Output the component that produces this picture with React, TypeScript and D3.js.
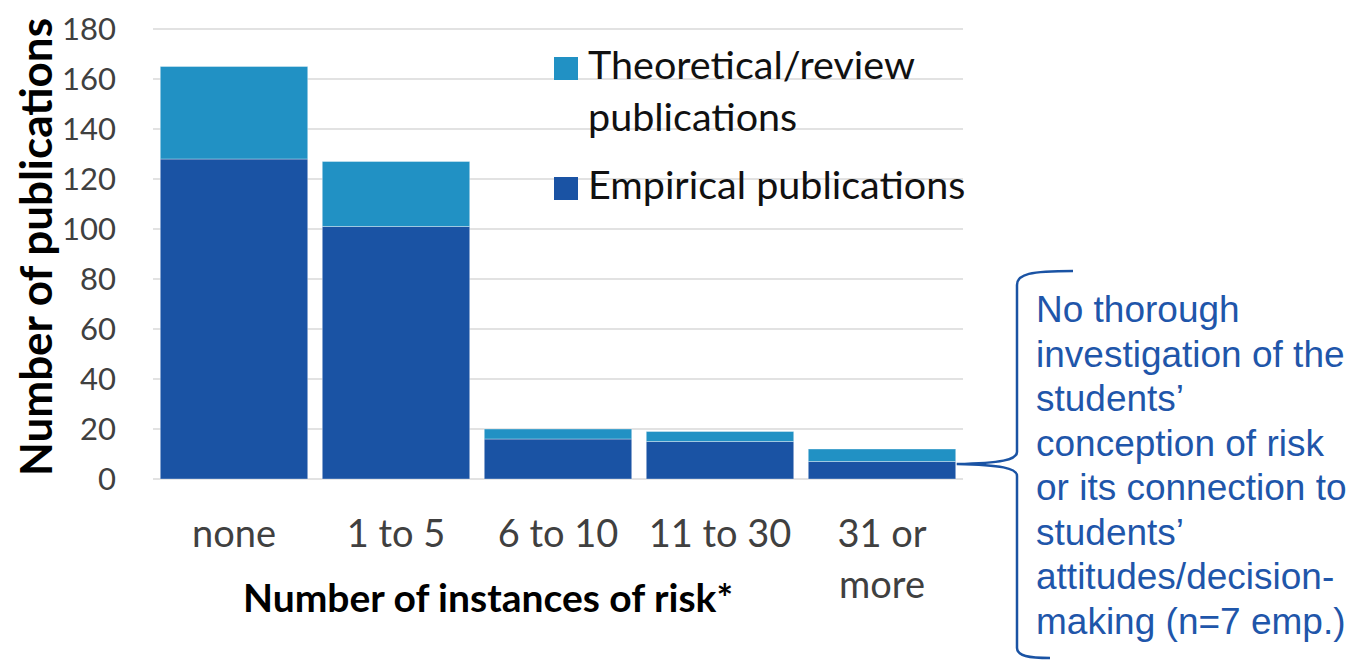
import React from "react";
import * as d3 from "d3";

// categories and series
const categories = ["none", "1 to 5", "6 to 10", "11 to 30", "31 or more"];
const categoryLines = [["none"], ["1 to 5"], ["6 to 10"], ["11 to 30"], ["31 or", "more"]];
const empirical = [128, 101, 16, 15, 7];
const theoretical = [37, 26, 4, 4, 5];
const yTicks = [0, 20, 40, 60, 80, 100, 120, 140, 160, 180];
const seriesNames = ["Empirical publications", "Theoretical/review publications"];
const noteLines = [
  "No thorough",
  "investigation of the",
  "students’",
  "conception of risk",
  "or its connection to",
  "students’",
  "attitudes/decision-",
  "making (n=7 emp.)",
];

const W = 1353;
const H = 662;
const left = 153;
const right = 963;
const top = 29;
const bottom = 479;

const DARK = "#1a53a4";
const LIGHT = "#2191c4";
const FONT = "Lato, 'Open Sans', sans-serif";

const App = () => {
  const x = d3
    .scaleBand<string>()
    .domain(categories)
    .range([left, right])
    .paddingInner(0.09)
    .paddingOuter(0.045);
  const y = d3.scaleLinear().domain([0, 180]).range([bottom, top]);

  // stack the two series
  const rows = categories.map((c, i) => ({ cat: c, emp: empirical[i], theo: theoretical[i] }));
  const stacked = d3.stack<any>().keys(["emp", "theo"])(rows);
  const colors = [DARK, LIGHT];

  // brace pointing at the last bar's empirical segment
  const lastCat = categories[categories.length - 1];
  const tipX = (x(lastCat) as number) + x.bandwidth() + 1;
  const tipY = y(6);
  const bx = 1017;
  const braceTop = 271;
  const braceBottom = 658;
  const brace =
    `M1073,${braceTop} C1030,${braceTop} ${bx},${braceTop + 3} ${bx},${braceTop + 14} ` +
    `L${bx},${tipY - 12} C${bx},${tipY - 4} ${bx - 16},${tipY - 1} ${tipX},${tipY} ` +
    `C${bx - 16},${tipY + 1} ${bx},${tipY + 4} ${bx},${tipY + 12} ` +
    `L${bx},${braceBottom - 10} C${bx},${braceBottom - 2} ${bx + 12},${braceBottom} 1050,${braceBottom}`;

  return (
    <svg width={W} height={H} style={{ position: "absolute", left: 0, top: 0 }}>
      <rect width={W} height={H} fill="#fff" />

      {/* gridlines */}
      {yTicks.map((t) => (
        <line key={t} x1={left} x2={right} y1={y(t)} y2={y(t)} stroke="#d9d9d9" strokeWidth={1.5} />
      ))}

      {/* y tick labels */}
      {yTicks.map((t) => (
        <text
          key={"l" + t}
          x={116}
          y={y(t)}
          dy="0.36em"
          textAnchor="end"
          fontFamily={FONT}
          fontSize={31}
          fill="#404040"
        >
          {t}
        </text>
      ))}

      {/* bars */}
      {stacked.map((s, si) =>
        s.map((d, i) => (
          <rect
            key={si + "-" + i}
            x={x(categories[i])}
            width={x.bandwidth()}
            y={y(d[1])}
            height={y(d[0]) - y(d[1])}
            fill={colors[si]}
            stroke="#ffffff"
            strokeOpacity={0.35}
            strokeWidth={1}
          />
        ))
      )}

      {/* x tick labels */}
      {categoryLines.map((lines, i) => (
        <text
          key={"x" + i}
          x={(x(categories[i]) as number) + x.bandwidth() / 2}
          y={547}
          textAnchor="middle"
          fontFamily={FONT}
          fontSize={38}
          fill="#404040"
        >
          {lines.map((ln, j) => (
            <tspan key={j} x={(x(categories[i]) as number) + x.bandwidth() / 2} dy={j === 0 ? 0 : 51}>
              {ln}
            </tspan>
          ))}
        </text>
      ))}

      {/* axis titles */}
      <text
        x={488}
        y={612}
        textAnchor="middle"
        fontFamily={FONT}
        fontWeight="bold"
        fontSize={39}
        fill="#000"
      >
        Number of instances of risk*
      </text>
      <text
        transform={`translate(52,247) rotate(-90)`}
        textAnchor="middle"
        fontFamily={FONT}
        fontWeight="bold"
        fontSize={44}
        fill="#000"
      >
        Number of publications
      </text>

      {/* legend */}
      <rect x={554} y={57} width={24} height={23} fill={LIGHT} />
      <text x={588} y={79} fontFamily={FONT} fontSize={39.5} fill="#111">
        <tspan x={588}>Theoretical/review</tspan>
        <tspan x={588} dy={52}>
          publications
        </tspan>
      </text>
      <rect x={554} y={177} width={24} height={23} fill={DARK} />
      <text x={588} y={199} fontFamily={FONT} fontSize={39.5} fill="#111">
        {seriesNames[0]}
      </text>

      {/* annotation brace and note */}
      <path d={brace} fill="none" stroke={DARK} strokeWidth={2.5} />
      <text
        x={1036}
        y={322}
        fontFamily="'Liberation Sans', Arial, sans-serif"
        fontSize={37}
        fill="#1f56aa"
      >
        {noteLines.map((ln, i) => (
          <tspan key={i} x={1036} dy={i === 0 ? 0 : 44.5}>
            {ln}
          </tspan>
        ))}
      </text>
    </svg>
  );
};

export default App;
